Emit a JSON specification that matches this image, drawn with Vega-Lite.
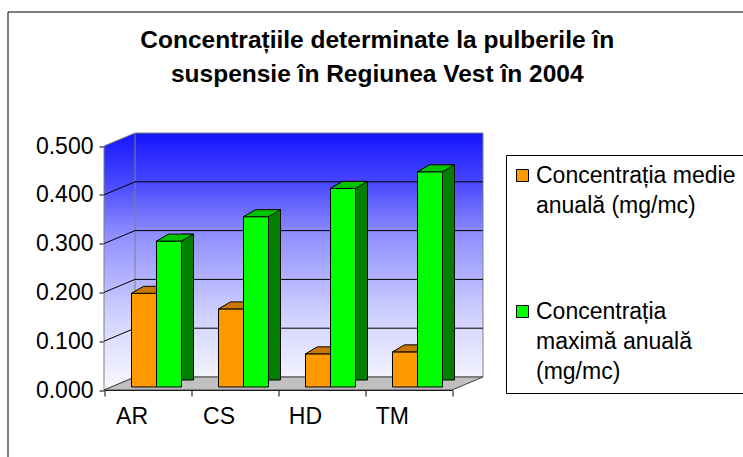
{
  "$schema": "https://vega.github.io/schema/vega-lite/v6.json",
  "width": 735.5,
  "height": 445.5,
  "autosize": {"type": "none"},
  "padding": {"left": 7.5, "top": 11.5, "right": 0, "bottom": 0},
  "background": "white",
  "config": {
    "view": {"stroke": "black", "strokeWidth": 1},
    "font": "Liberation Sans",
    "style": {"guide-label": {"lineHeight": 30}}
  },
  "title": {
    "text": ["Concentrațiile determinate la pulberile în", "suspensie în Regiunea Vest în 2004"],
    "font": "Liberation Sans",
    "fontSize": 24.5,
    "fontWeight": "bold",
    "color": "black",
    "anchor": "middle",
    "frame": "group",
    "offset": -76,
    "lineHeight": 34,
    "dx": 2
  },
  "datasets": {
    "valori": [
      {"judet": "AR", "serie": "Concentrația medie anuală (mg/mc)", "valoare": 0.192},
      {"judet": "AR", "serie": "Concentrația maximă anuală (mg/mc)", "valoare": 0.299},
      {"judet": "CS", "serie": "Concentrația medie anuală (mg/mc)", "valoare": 0.160},
      {"judet": "CS", "serie": "Concentrația maximă anuală (mg/mc)", "valoare": 0.349},
      {"judet": "HD", "serie": "Concentrația medie anuală (mg/mc)", "valoare": 0.068},
      {"judet": "HD", "serie": "Concentrația maximă anuală (mg/mc)", "valoare": 0.407},
      {"judet": "TM", "serie": "Concentrația medie anuală (mg/mc)", "valoare": 0.072},
      {"judet": "TM", "serie": "Concentrația maximă anuală (mg/mc)", "valoare": 0.441}
    ],
    "grila": [{"t": 0.1}, {"t": 0.2}, {"t": 0.3}, {"t": 0.4}],
    "cadru": [{"element": "perete"}]
  },
  "layer": [
    {
      "data": {"name": "cadru"},
      "mark": {
        "type": "point",
        "shape": "M0,0L31,-13L379,-13L379,-257L31,-257L0,-244Z",
        "size": 4,
        "filled": true,
        "opacity": 1,
        "fill": {
          "gradient": "linear", "x1": 0, "y1": 0, "x2": 0, "y2": 1,
          "stops": [
            {"offset": 0, "color": "#1414ff"},
            {"offset": 0.2, "color": "#4a4aff"},
            {"offset": 0.4, "color": "#9090ff"},
            {"offset": 0.7, "color": "#cfcfff"},
            {"offset": 1, "color": "#fafaff"}
          ]
        },
        "stroke": "#808080",
        "strokeWidth": 1
      },
      "encoding": {
        "x": {"datum": "AR", "type": "nominal", "bandPosition": 0,
              "scale": {"range": [96.5, 444.5], "paddingInner": 0, "paddingOuter": 0}},
        "y": {"datum": 0, "type": "quantitative",
              "scale": {"domain": [0, 0.5], "range": [378.5, 134.5], "nice": false}}
      }
    },
    {
      "data": {"name": "cadru"},
      "mark": {
        "type": "point",
        "shape": "M0,0L348,0L379,-13L31,-13Z",
        "size": 4,
        "filled": true,
        "opacity": 1,
        "fill": "#c0c0c0",
        "stroke": "#404040",
        "strokeWidth": 1
      },
      "encoding": {
        "x": {"datum": "AR", "type": "nominal", "bandPosition": 0},
        "y": {"datum": 0, "type": "quantitative"}
      }
    },
    {
      "data": {"name": "cadru"},
      "mark": {"type": "rule", "color": "#808080", "strokeWidth": 1, "xOffset": 31, "yOffset": -13, "y2Offset": -13},
      "encoding": {
        "x": {"datum": "AR", "type": "nominal", "bandPosition": 0},
        "y": {"datum": 0, "type": "quantitative"},
        "y2": {"datum": 0.5}
      }
    },
    {
      "data": {"name": "grila"},
      "mark": {"type": "rule", "color": "black", "strokeWidth": 1, "x2Offset": 31, "y2Offset": -13},
      "encoding": {
        "x": {"datum": "AR", "type": "nominal", "bandPosition": 0},
        "x2": {"datum": "AR", "bandPosition": 0},
        "y": {"field": "t", "type": "quantitative", "title": null},
        "y2": {"field": "t"}
      }
    },
    {
      "data": {"name": "grila"},
      "mark": {"type": "rule", "color": "black", "strokeWidth": 1, "xOffset": 31, "x2Offset": 31, "yOffset": -13},
      "encoding": {
        "x": {"datum": "AR", "type": "nominal", "bandPosition": 0},
        "x2": {"datum": "TM", "bandPosition": 1},
        "y": {"field": "t", "type": "quantitative", "title": null}
      }
    },
    {
      "data": {"name": "valori"},
      "transform": [{"filter": "indexof(datum.serie, 'medie') >= 0"}],
      "mark": {"type": "bar", "stroke": "black", "strokeWidth": 1, "yOffset": -3, "y2Offset": -3, "opacity": 1},
      "encoding": {
        "x": {"field": "judet", "type": "nominal", "title": null,
              "axis": {"labelAngle": 0, "labelFont": "Liberation Sans", "labelFontSize": 23, "labelColor": "black",
                       "domainColor": "black", "tickColor": "black", "tickSize": 6, "tickBand": "extent",
                       "labelPadding": 20, "offset": -67, "grid": false}},
        "xOffset": {"field": "serie", "type": "nominal",
                    "scale": {"domain": ["Concentrația medie anuală (mg/mc)", "Concentrația maximă anuală (mg/mc)"], "range": [27.5, 77.5], "paddingInner": 0, "paddingOuter": 0}},
        "y": {"field": "valoare", "type": "quantitative", "title": null,
              "axis": {"values": [0, 0.1, 0.2, 0.3, 0.4, 0.5], "format": ".3f", "labelFont": "Liberation Sans", "labelFontSize": 23,
                       "labelColor": "black", "domainColor": "#808080", "tickColor": "black", "tickSize": 5,
                       "labelPadding": 6, "offset": -96.5, "grid": false}},
        "color": {"field": "serie", "type": "nominal", "title": null,
                  "scale": {"domain": ["Concentrația medie anuală (mg/mc)", "Concentrația maximă anuală (mg/mc)"], "range": ["#FF9900", "#00FF00"]},
                  "legend": {
                    "orient": "none", "legendX": 498.5, "legendY": 143.5,
                    "title": " ", "titleOrient": "bottom", "titleFontSize": 2, "titlePadding": 11,
                    "symbolType": "square", "symbolSize": 144, "symbolStrokeColor": "black", "symbolStrokeWidth": 1,
                    "symbolOffset": -4,
                    "labelFont": "Liberation Sans", "labelFontSize": 23, "labelColor": "black", "labelLimit": 1000,
                    "labelOffset": 2, "strokeColor": "black", "fillColor": "white", "padding": 9, "rowPadding": 82,
                    "labelExpr": "indexof(datum.label, 'medie') >= 0 ? ['Concentrația medie', 'anuală (mg/mc)'] : ['Concentrația', 'maximă anuală', '(mg/mc)']",
                    "encode": {"labels": {
                      "enter": {"lineHeight": {"value": 30}},
                      "update": {"lineHeight": {"value": 30}, "baseline": {"value": "alphabetic"}, "dy": {"value": 7}}}}
                  }}
      }
    },
    {
      "data": {"name": "valori"},
      "transform": [{"filter": "indexof(datum.serie, 'medie') >= 0"}],
      "mark": {"type": "point", "shape": "M-12.5,0L12.5,0L24.5,-7L-0.5,-7Z", "size": 4, "filled": true, "opacity": 1,
               "fill": "#c87800", "stroke": "black", "strokeWidth": 1, "yOffset": -3},
      "encoding": {
        "x": {"field": "judet", "type": "nominal", "title": null},
        "xOffset": {"field": "serie", "type": "nominal"},
        "y": {"field": "valoare", "type": "quantitative", "title": null}
      }
    },
    {
      "data": {"name": "valori"},
      "transform": [{"filter": "indexof(datum.serie, 'maxim') >= 0"}],
      "mark": {"type": "bar", "width": 12, "fill": "#007f00", "stroke": "black", "strokeWidth": 1, "opacity": 1,
               "xOffset": 40, "yOffset": -10, "y2Offset": -3},
      "encoding": {
        "x": {"field": "judet", "type": "nominal", "title": null},
        "y": {"field": "valoare", "type": "quantitative", "title": null}
      }
    },
    {
      "data": {"name": "valori"},
      "transform": [{"filter": "indexof(datum.serie, 'maxim') >= 0"}],
      "mark": {"type": "bar", "stroke": "black", "strokeWidth": 1, "yOffset": -3, "y2Offset": -3, "opacity": 1},
      "encoding": {
        "x": {"field": "judet", "type": "nominal", "title": null},
        "xOffset": {"field": "serie", "type": "nominal"},
        "y": {"field": "valoare", "type": "quantitative", "title": null},
        "color": {"field": "serie", "type": "nominal", "title": null}
      }
    },
    {
      "data": {"name": "valori"},
      "transform": [{"filter": "indexof(datum.serie, 'maxim') >= 0"}],
      "mark": {"type": "point", "shape": "M-12.5,0L12.5,0L24.5,-7L-0.5,-7Z", "size": 4, "filled": true, "opacity": 1,
               "fill": "#00c400", "stroke": "black", "strokeWidth": 1, "yOffset": -3},
      "encoding": {
        "x": {"field": "judet", "type": "nominal", "title": null},
        "xOffset": {"field": "serie", "type": "nominal"},
        "y": {"field": "valoare", "type": "quantitative", "title": null}
      }
    }
  ]
}
